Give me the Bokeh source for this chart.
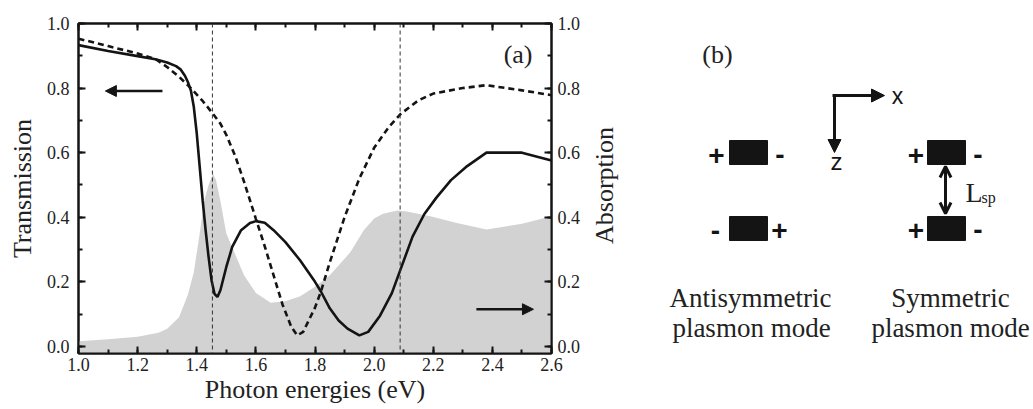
import math
from bokeh.plotting import figure
from bokeh.models import (Range1d, LinearAxis, SingleIntervalTicker, PrintfTickFormatter,
                          CustomJSTickFormatter, Span, Arrow, NormalHead, OpenHead, Label)
from bokeh.layouts import row
from bokeh.embed import file_html
from bokeh.resources import INLINE
from bokeh.core.properties import value

# ---------------- data ----------------
solid_ev = [1.00, 1.10, 1.20, 1.26, 1.30, 1.33, 1.345, 1.36, 1.37, 1.38, 1.39, 1.40, 1.41,
            1.42, 1.43, 1.44, 1.45, 1.46, 1.47, 1.48, 1.50, 1.52, 1.55, 1.58, 1.60, 1.63,
            1.66, 1.70, 1.75, 1.80, 1.82, 1.85, 1.88, 1.91, 1.95, 1.98, 2.02, 2.06, 2.09,
            2.13, 2.17, 2.21, 2.26, 2.31, 2.38, 2.50, 2.60]
solid_trans = [0.933, 0.915, 0.899, 0.889, 0.879, 0.868, 0.858, 0.838, 0.819, 0.793, 0.742,
               0.660, 0.556, 0.452, 0.360, 0.277, 0.205, 0.163, 0.153, 0.174, 0.246, 0.308,
               0.360, 0.382, 0.388, 0.383, 0.360, 0.323, 0.266, 0.200, 0.170, 0.118, 0.080,
               0.055, 0.034, 0.045, 0.095, 0.165, 0.240, 0.340, 0.410, 0.460, 0.515, 0.555,
               0.600, 0.600, 0.576]

dash_ev = [1.00, 1.10, 1.20, 1.26, 1.30, 1.34, 1.38, 1.42, 1.45, 1.48, 1.50, 1.53, 1.56,
           1.60, 1.63, 1.66, 1.69, 1.72, 1.74, 1.76, 1.80, 1.82, 1.85, 1.90, 1.95, 2.00,
           2.05, 2.09, 2.15, 2.20, 2.30, 2.38, 2.50, 2.60]
dash_trans = [0.953, 0.930, 0.907, 0.890, 0.865, 0.835, 0.800, 0.760, 0.726, 0.690, 0.655,
              0.590, 0.510, 0.395, 0.310, 0.220, 0.130, 0.060, 0.034, 0.045, 0.120, 0.170,
              0.260, 0.400, 0.520, 0.615, 0.680, 0.720, 0.762, 0.783, 0.800, 0.809, 0.793,
              0.778]

abs_ev = [1.00, 1.10, 1.20, 1.27, 1.30, 1.34, 1.37, 1.39, 1.41, 1.425, 1.44, 1.455, 1.465,
          1.48, 1.50, 1.53, 1.56, 1.60, 1.65, 1.70, 1.75, 1.80, 1.85, 1.92, 1.965, 2.00,
          2.03, 2.08, 2.11, 2.19, 2.28, 2.38, 2.50, 2.60]
absorption = [0.016, 0.022, 0.030, 0.042, 0.055, 0.090, 0.160, 0.230, 0.350, 0.450, 0.500,
              0.535, 0.515, 0.450, 0.350, 0.285, 0.220, 0.165, 0.135, 0.140, 0.155, 0.185,
              0.220, 0.292, 0.360, 0.396, 0.411, 0.421, 0.418, 0.403, 0.382, 0.362, 0.380,
              0.403]

resonance_ev = [1.453, 2.088]

SERIF = "Liberation Serif"
SANS = "Liberation Sans"
INK = "#141414"
TXT = "#222222"

# ---------------- panel (a) ----------------
pa = figure(width=590, height=409, x_range=Range1d(1.0, 2.6), y_range=Range1d(-0.022, 1.0),
            output_backend="svg", toolbar_location=None,
            min_border_left=78, min_border_right=39, min_border_top=23, min_border_bottom=56)
pa.grid.visible = False
pa.outline_line_color = INK
pa.outline_line_width = 2
pa.extra_y_ranges = {"abs": Range1d(-0.022, 1.0)}
pa.add_layout(LinearAxis(y_range_name="abs"), "right")
pa.add_layout(LinearAxis(), "above")

bottom_ax, top_ax = pa.below[0], pa.above[0]
left_ax, right_ax = pa.left[0], pa.right[0]

for ax in (bottom_ax, top_ax, left_ax, right_ax):
    ax.ticker = SingleIntervalTicker(interval=0.2, num_minor_ticks=2)
    ax.formatter = PrintfTickFormatter(format="%.1f")
    ax.axis_line_color = INK
    ax.axis_line_width = 2
    ax.major_tick_line_color = INK
    ax.major_tick_line_width = 2
    ax.major_tick_in = 7
    ax.major_tick_out = 0
    ax.minor_tick_line_color = INK
    ax.minor_tick_line_width = 2
    ax.minor_tick_in = 4
    ax.minor_tick_out = 0
    ax.major_label_text_font = SERIF
    ax.major_label_text_font_size = "18px"
    ax.major_label_text_color = TXT

top_ax.formatter = CustomJSTickFormatter(code="return ''")
top_ax.major_label_standoff = 0
bottom_ax.major_label_standoff = 4
left_ax.major_label_standoff = 9
right_ax.major_label_standoff = 6

bottom_ax.axis_label = "Photon energies (eV)"
left_ax.axis_label = "Transmission"
bottom_ax.axis_label_standoff = 1
left_ax.axis_label_standoff = 7
for ax in (bottom_ax, left_ax):
    ax.axis_label_text_font = SERIF
    ax.axis_label_text_font_size = "26px"
    ax.axis_label_text_font_style = "normal"
    ax.axis_label_text_color = TXT

pa.varea(x=abs_ev, y1=-0.05, y2=absorption, y_range_name="abs",
         fill_color="#d2d2d2", fill_alpha=1.0)
pa.line(dash_ev, dash_trans, line_color=INK, line_width=2.6, line_dash="6 4")
pa.line(solid_ev, solid_trans, line_color=INK, line_width=2.6)

for ev in resonance_ev:
    pa.add_layout(Span(location=ev, dimension="height", line_color="#333333",
                       line_width=1, line_dash="4 3"))

pa.add_layout(Arrow(end=NormalHead(size=11, fill_color=INK, line_color=INK),
                    x_start=1.284, y_start=0.791, x_end=1.091, y_end=0.791,
                    line_color=INK, line_width=2.5))
pa.add_layout(Arrow(end=NormalHead(size=11, fill_color=INK, line_color=INK),
                    x_start=2.346, y_start=0.115, x_end=2.539, y_end=0.115,
                    line_color=INK, line_width=2.5))

pa.add_layout(Label(x=2.487, y=0.904, text="(a)", text_font=SERIF, text_font_size="26px",
                    text_align="center", text_baseline="alphabetic", text_color=TXT))

# ---------------- panel (b): schematic (page-pixel coordinates) ----------------
# The row aligns this frame with panel (a)'s frame (page rows 23..353).
pb = figure(width=443, height=409, x_range=Range1d(590, 1033), y_range=Range1d(353, 23),
            x_axis_type=None, y_axis_type=None, output_backend="svg",
            toolbar_location=None, min_border=0)
pb.grid.visible = False
pb.outline_line_color = None

# right-hand axis title of panel (a), reading bottom-to-top
pb.add_layout(Label(x=604, y=185, text="Absorption", text_font=SERIF, angle=math.pi / 2,
                    text_font_size="26px", text_align="center", text_baseline="middle",
                    text_color=TXT))

# particle pairs (left: antisymmetric, right: symmetric)
pb.quad(left=[729, 729, 927, 927], right=[767, 767, 965, 965],
        top=[140, 216, 140, 216], bottom=[164, 240, 164, 240],
        fill_color=INK, line_color=INK)

sign_x = [716, 779.5, 715, 779, 915.5, 977.5, 915.5, 977.5]
sign_y = [154.5, 154, 229.5, 229.5, 154.5, 154, 229.5, 229]
sign_t = ["+", "-", "-", "+", "+", "-", "+", "-"]
pb.text(x=sign_x, y=sign_y, text=sign_t, text_font=value(SANS), text_font_size="28px",
        text_font_style="bold", text_align="center", text_baseline="alphabetic",
        text_color=INK)

# coordinate axes
pb.add_layout(Arrow(end=NormalHead(size=13, fill_color=INK, line_color=INK),
                    x_start=832, y_start=95, x_end=884, y_end=95,
                    line_color=INK, line_width=3))
pb.add_layout(Arrow(end=NormalHead(size=13, fill_color=INK, line_color=INK),
                    x_start=834, y_start=94, x_end=834, y_end=152,
                    line_color=INK, line_width=3))
pb.add_layout(Label(x=897, y=95, text="x", text_font=SANS, text_font_size="23px",
                    text_align="center", text_baseline="alphabetic", text_color=INK))
pb.add_layout(Label(x=836, y=161, text="z", text_font=SANS, text_font_size="24px",
                    text_align="center", text_baseline="alphabetic", text_color=INK))

# separation arrow
pb.add_layout(Arrow(start=OpenHead(size=11, line_color=INK, line_width=3),
                    end=OpenHead(size=11, line_color=INK, line_width=3),
                    x_start=945, y_start=166, x_end=945, y_end=213,
                    line_color=INK, line_width=3))
pb.add_layout(Label(x=965, y=192, text="L", text_font=SERIF, text_font_size="28px",
                    text_align="left", text_baseline="alphabetic", text_color=TXT))
pb.add_layout(Label(x=981, y=197, text="sp", text_font=SERIF, text_font_size="16px",
                    text_align="left", text_baseline="alphabetic", text_color=TXT))

pb.add_layout(Label(x=717, y=54, text="(b)", text_font=SERIF, text_font_size="26px",
                    text_align="center", text_baseline="alphabetic", text_color=TXT))
captions = [(750, 297, "Antisymmetric"), (751, 327, "plasmon mode"),
            (950, 297, "Symmetric"), (950, 327, "plasmon mode")]
for cx, cy, ct in captions:
    pb.add_layout(Label(x=cx, y=cy, text=ct, text_font=SERIF, text_font_size="27px",
                        text_align="center", text_baseline="alphabetic", text_color=TXT))

layout = row(pa, pb)
open("out.html", "w").write(file_html(layout, INLINE))
